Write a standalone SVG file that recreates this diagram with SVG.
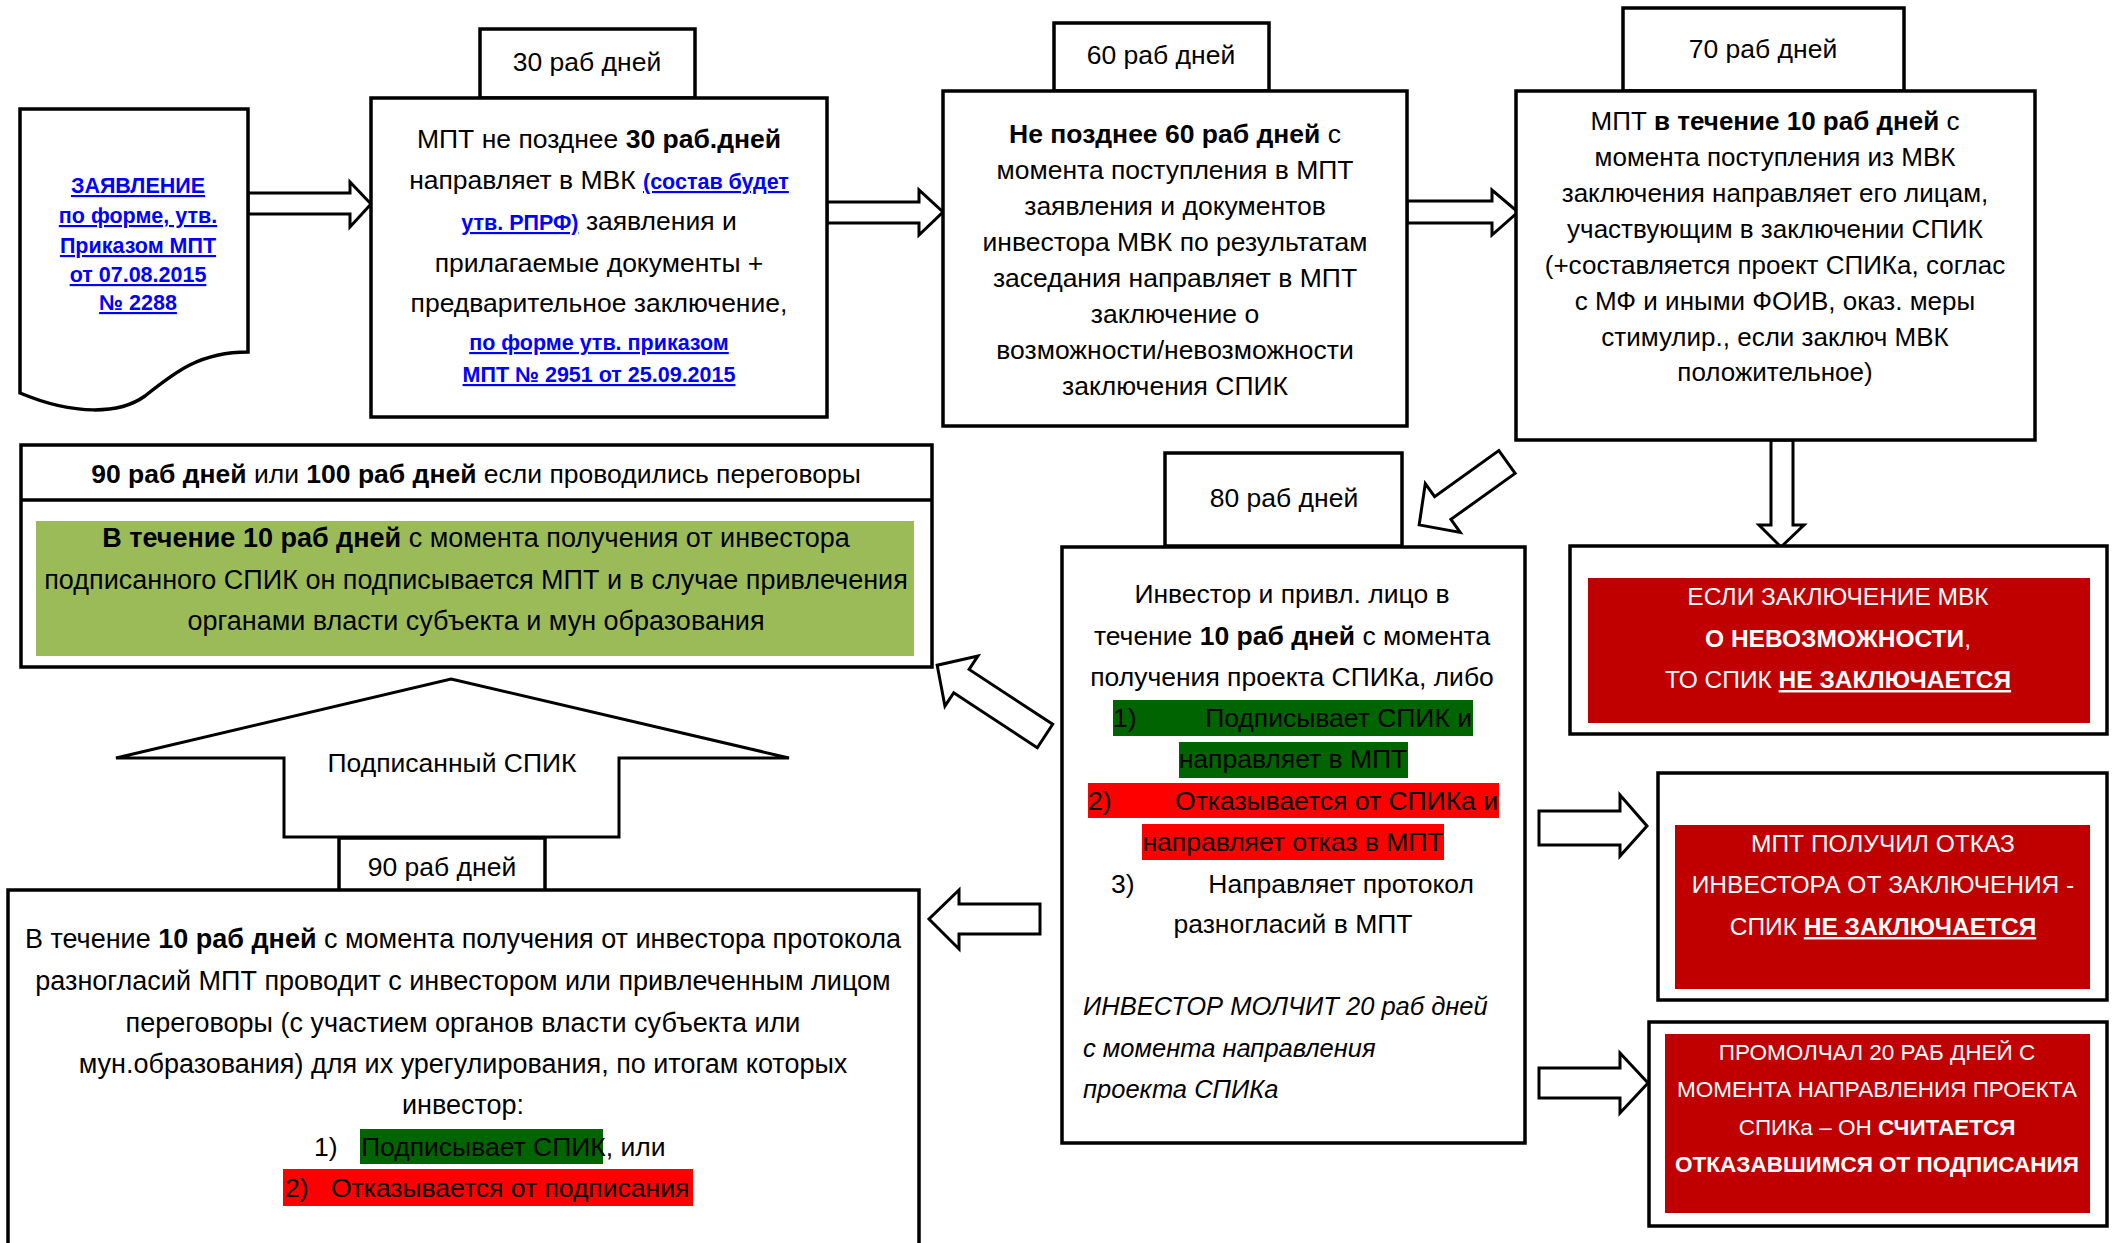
<svg xmlns="http://www.w3.org/2000/svg" width="2116" height="1243" viewBox="0 0 2116 1243">
<style>
text{font-family:"Liberation Sans",Arial,sans-serif;font-size:26.5px;fill:#000}
.c{text-anchor:middle}
.b{font-weight:bold}
.box{fill:#fff;stroke:#000;stroke-width:3.5}
.arr{fill:#fff;stroke:#000;stroke-width:3;stroke-linejoin:miter}
.lnk{fill:#0000FF;font-weight:bold;text-decoration:underline;font-size:21.5px}
.w{fill:#fff;font-size:24.5px}
.s{font-size:22.5px}
.u{text-decoration:underline}
.it{font-style:italic;font-size:25.5px}
.big{font-size:27px}
.m{font-size:26px}
</style>
<rect width="2116" height="1243" fill="#fff"/>

<g id="connectors">
  <polygon class="arr" points="248,193 350,193 350,182 371,204 350,227 350,214 248,214"/>
  <polygon class="arr" points="827,202 919,202 919,190 943,212 919,235 919,223 827,223"/>
  <polygon class="arr" points="1407,201 1492,201 1492,190 1518,212 1492,235 1492,223 1407,223"/>
  <polygon class="arr" points="1771,440 1793,440 1793,525 1804,525 1781,547 1759,525 1771,525"/>
  <polygon class="arr" transform="translate(1507,462) rotate(144.4)" points="0,-14 79,-14 79,-30 108,0 79,30 79,14 0,14"/>
  <polygon class="arr" transform="translate(1045,736) rotate(213.3)" points="0,-14 100,-14 100,-30 129,0 100,30 100,14 0,14"/>
  <polygon class="arr" points="1040,904 959,904 959,890 929,919 959,949 959,934 1040,934"/>
  <polygon class="arr" points="1539,811 1620,811 1620,795 1647,826 1620,856 1620,845 1539,845"/>
  <polygon class="arr" points="1539,1068 1620,1068 1620,1053 1648,1083 1620,1113 1620,1098 1539,1098"/>
  <g id="signed-arrow">
    <polygon class="arr" points="451,679 789,758 619,758 619,837 284,837 284,758 116,758"/>
    <text class="c" x="452" y="772">Подписанный СПИК</text>
  </g>
</g>

<g id="doc">
  <path class="box" d="M20,109 L248,109 L248,352 C200,352 175,372 145,396 C120,414 75,416 20,393 Z"/>
  <text class="lnk c" x="138" y="193">ЗАЯВЛЕНИЕ</text>
  <text class="lnk c" x="138" y="223">по форме, утв.</text>
  <text class="lnk c" x="138" y="253">Приказом МПТ</text>
  <text class="lnk c" x="138" y="282">от 07.08.2015</text>
  <text class="lnk c" x="138" y="310">№ 2288</text>
</g>

<g id="tab30">
  <rect class="box" x="480" y="29" width="215" height="69"/>
  <text class="c" x="587" y="71">30 раб дней</text>
</g>
<g id="box30">
  <rect class="box" x="371" y="98" width="456" height="319"/>
  <text class="c" x="599" y="148">МПТ не позднее <tspan class="b">30 раб.дней</tspan></text>
  <text class="c" x="599" y="189">направляет в МВК <tspan class="lnk">(состав будет</tspan></text>
  <text class="c" x="599" y="230"><tspan class="lnk">утв. РПРФ)</tspan> заявления и</text>
  <text class="c" x="599" y="272">прилагаемые документы +</text>
  <text class="c" x="599" y="312">предварительное заключение,</text>
  <text class="lnk c" x="599" y="350">по форме утв. приказом</text>
  <text class="lnk c" x="599" y="382">МПТ № 2951 от 25.09.2015</text>
</g>

<g id="tab60">
  <rect class="box" x="1054" y="23" width="215" height="68"/>
  <text class="c" x="1161" y="64">60 раб дней</text>
</g>
<g id="box60">
  <rect class="box" x="943" y="91" width="464" height="335"/>
  <text class="c" x="1175" y="143"><tspan class="b">Не позднее 60 раб дней</tspan> с</text>
  <text class="c" x="1175" y="179">момента поступления в МПТ</text>
  <text class="c" x="1175" y="215">заявления и документов</text>
  <text class="c" x="1175" y="251">инвестора МВК по результатам</text>
  <text class="c" x="1175" y="287">заседания направляет в МПТ</text>
  <text class="c" x="1175" y="323">заключение о</text>
  <text class="c" x="1175" y="359">возможности/невозможности</text>
  <text class="c" x="1175" y="395">заключения СПИК</text>
</g>

<g id="tab70">
  <rect class="box" x="1623" y="8" width="281" height="83"/>
  <text class="c" x="1763" y="58">70 раб дней</text>
</g>
<g id="box70">
  <rect class="box" x="1516" y="91" width="519" height="349"/>
  <text class="c m" x="1775" y="130">МПТ <tspan class="b">в течение 10 раб дней</tspan> с</text>
  <text class="c m" x="1775" y="166">момента поступления из МВК</text>
  <text class="c m" x="1775" y="202">заключения направляет его лицам,</text>
  <text class="c m" x="1775" y="238">участвующим в заключении СПИК</text>
  <text class="c m" x="1775" y="274">(+составляется проект СПИКа, соглас</text>
  <text class="c m" x="1775" y="310">с МФ и иными ФОИВ, оказ. меры</text>
  <text class="c m" x="1775" y="346">стимулир., если заключ МВК</text>
  <text class="c m" x="1775" y="381">положительное)</text>
</g>

<g id="box90-100">
  <rect class="box" x="21" y="445" width="911" height="222"/>
  <line x1="21" y1="500" x2="932" y2="500" stroke="#000" stroke-width="3.5"/>
  <text class="c" x="476" y="483"><tspan class="b">90 раб дней</tspan> или <tspan class="b">100 раб дней</tspan> если проводились переговоры</text>
  <rect x="36" y="521" width="878" height="135" fill="#9BBB59"/>
  <text class="c big" x="476" y="547"><tspan class="b">В течение 10 раб дней</tspan> с момента получения от инвестора</text>
  <text class="c big" x="476" y="589">подписанного СПИК он подписывается МПТ и в случае привлечения</text>
  <text class="c big" x="476" y="630">органами власти субъекта и мун образования</text>
</g>

<g id="tab80">
  <rect class="box" x="1165" y="453" width="237" height="93"/>
  <text class="c" x="1284" y="507">80 раб дней</text>
</g>
<g id="box80">
  <rect class="box" x="1062" y="547" width="463" height="596"/>
  <text class="c" x="1292" y="603">Инвестор и привл. лицо в</text>
  <text class="c" x="1292" y="645">течение <tspan class="b">10 раб дней</tspan> с момента</text>
  <text class="c" x="1292" y="686">получения проекта СПИКа, либо</text>
  <rect x="1113" y="700" width="360" height="36" fill="#006400"/>
  <text x="1113" y="727">1)</text>
  <text x="1472" y="727" style="text-anchor:end">Подписывает СПИК и</text>
  <rect x="1179" y="742" width="229" height="36" fill="#006400"/>
  <text class="c" x="1293" y="768">направляет в МПТ</text>
  <rect x="1088" y="783" width="411" height="35" fill="#FF0000"/>
  <text x="1088" y="810">2)</text>
  <text x="1498" y="810" style="text-anchor:end">Отказывается от СПИКа и</text>
  <rect x="1142" y="824" width="302" height="36" fill="#FF0000"/>
  <text class="c" x="1293" y="851">направляет отказ в МПТ</text>
  <text x="1111" y="893">3)</text>
  <text x="1474" y="893" style="text-anchor:end">Направляет протокол</text>
  <text class="c" x="1293" y="933">разногласий в МПТ</text>
  <text class="it" x="1083" y="1015">ИНВЕСТОР МОЛЧИТ 20 раб дней</text>
  <text class="it" x="1083" y="1057">с момента направления</text>
  <text class="it" x="1083" y="1098">проекта СПИКа</text>
</g>

<g id="box-impossible">
  <rect class="box" x="1570" y="546" width="537" height="188"/>
  <rect x="1588" y="578" width="502" height="145" fill="#C00000"/>
  <text class="w c" x="1838" y="605">ЕСЛИ ЗАКЛЮЧЕНИЕ МВК</text>
  <text class="w c" x="1838" y="647"><tspan class="b">О НЕВОЗМОЖНОСТИ</tspan>,</text>
  <text class="w c" x="1838" y="688">ТО СПИК <tspan class="b u">НЕ ЗАКЛЮЧАЕТСЯ</tspan></text>
</g>

<g id="box-refusal">
  <rect class="box" x="1658" y="773" width="449" height="227"/>
  <rect x="1675" y="825" width="415" height="164" fill="#C00000"/>
  <text class="w c" x="1883" y="852">МПТ ПОЛУЧИЛ ОТКАЗ</text>
  <text class="w c" x="1883" y="893">ИНВЕСТОРА ОТ ЗАКЛЮЧЕНИЯ -</text>
  <text class="w c" x="1883" y="935">СПИК <tspan class="b u">НЕ ЗАКЛЮЧАЕТСЯ</tspan></text>
</g>

<g id="box-silent">
  <rect class="box" x="1649" y="1022" width="458" height="204"/>
  <rect x="1665" y="1034" width="425" height="179" fill="#C00000"/>
  <text class="w c s" x="1877" y="1060">ПРОМОЛЧАЛ 20 РАБ ДНЕЙ С</text>
  <text class="w c s" x="1877" y="1097">МОМЕНТА НАПРАВЛЕНИЯ ПРОЕКТА</text>
  <text class="w c s" x="1877" y="1135">СПИКа – ОН <tspan class="b">СЧИТАЕТСЯ</tspan></text>
  <text class="w c b s" x="1877" y="1172">ОТКАЗАВШИМСЯ ОТ ПОДПИСАНИЯ</text>
</g>

<g id="tab90">
  <rect class="box" x="339" y="838" width="206" height="53"/>
  <text class="c" x="442" y="876">90 раб дней</text>
</g>
<g id="box-negotiation">
  <rect class="box" x="8" y="890" width="911" height="360"/>
  <text class="c big" x="463" y="948">В течение <tspan class="b">10 раб дней</tspan> с момента получения от инвестора протокола</text>
  <text class="c big" x="463" y="990">разногласий МПТ проводит с инвестором или привлеченным лицом</text>
  <text class="c big" x="463" y="1032">переговоры (с участием органов власти субъекта или</text>
  <text class="c big" x="463" y="1073">мун.образования) для их урегулирования, по итогам которых</text>
  <text class="c big" x="463" y="1114">инвестор:</text>
  <rect x="360" y="1129" width="243" height="35" fill="#006400"/>
  <text x="314" y="1156">1)</text>
  <text x="361" y="1156">Подписывает СПИК, или</text>
  <rect x="283" y="1169" width="410" height="37" fill="#FF0000"/>
  <text x="285" y="1197">2)</text>
  <text x="331" y="1197">Отказывается от подписания</text>
</g>
</svg>
